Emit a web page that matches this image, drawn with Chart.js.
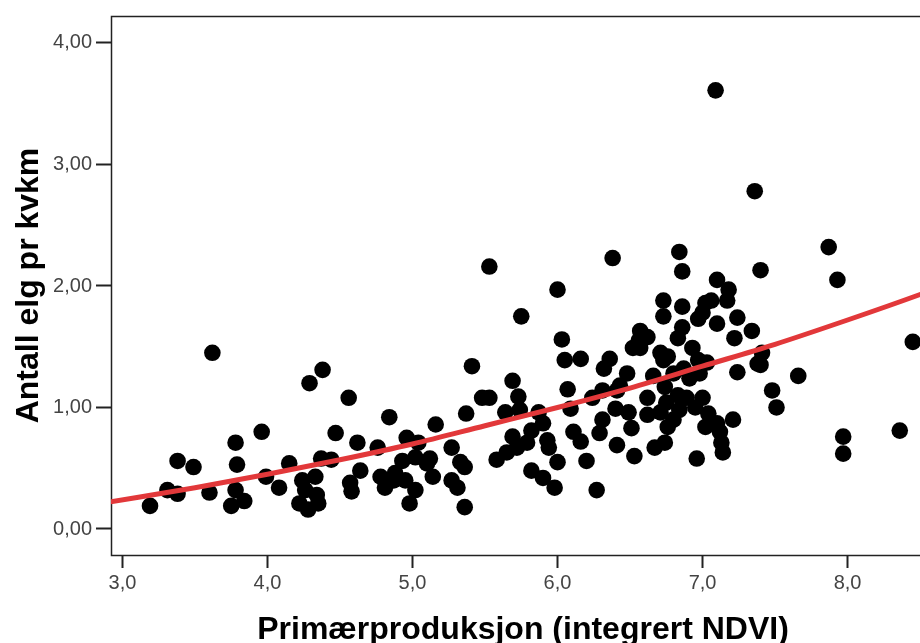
<!DOCTYPE html>
<html><head><meta charset="utf-8">
<script src="https://cdn.jsdelivr.net/npm/chart.js@4.4.1/dist/chart.umd.min.js"></script>
<style>html,body{margin:0;padding:0;overflow:hidden;background:#fff;width:920px;height:643px}canvas{display:block}</style>
</head><body><canvas id="c" width="935" height="643" style="width:935px;height:643px"></canvas>
<script>
// Primærproduksjon (integrert NDVI)
const ndvi = [3.19,3.31,3.38,3.38,3.49,3.60,3.62,3.75,3.84,3.78,3.78,3.79,3.96,3.99,4.08,4.15,4.22,4.24,4.26,4.28,4.33,4.34,4.35,4.29,4.38,4.56,4.47,4.62,4.37,4.44,4.57,4.58,4.64,4.76,4.84,4.78,4.81,4.87,4.88,4.93,4.95,4.98,5.02,4.96,5.04,5.02,5.10,5.12,5.14,5.16,5.27,5.33,5.36,5.27,5.31,5.36,5.37,5.41,5.48,5.53,5.53,5.58,5.65,5.72,5.79,5.69,5.82,5.93,5.94,5.82,5.90,5.98,5.64,5.74,5.87,5.90,5.69,5.73,5.75,6.00,6.03,6.05,6.16,6.07,6.09,6.24,6.31,6.41,6.36,6.32,6.38,6.48,6.52,6.40,6.49,6.51,6.31,6.11,6.16,6.29,6.41,6.53,6.20,6.00,6.27,6.43,6.66,6.74,6.80,6.91,6.98,7.03,7.24,7.38,6.62,6.62,6.67,6.74,6.76,6.80,6.84,6.83,6.89,6.95,7.00,7.04,7.02,7.10,7.12,7.13,7.14,7.21,6.96,6.84,6.86,7.40,7.10,7.18,7.17,6.73,6.73,6.86,7.02,7.06,7.00,6.97,7.10,7.24,7.34,7.22,6.57,6.56,6.62,6.57,6.86,6.83,6.71,6.76,6.93,6.97,6.73,6.87,7.41,7.40,7.66,7.48,7.51,7.87,7.93,8.45,7.97,7.97,8.36,7.09,7.36,6.75,6.71];
// Antall elg pr kvkm
const elg = [0.19,0.32,0.29,0.56,0.51,0.30,1.45,0.19,0.23,0.32,0.71,0.53,0.80,0.43,0.34,0.54,0.21,0.40,0.32,0.16,0.43,0.28,0.21,1.20,1.31,1.08,0.79,0.71,0.58,0.57,0.38,0.31,0.48,0.67,0.92,0.43,0.34,0.40,0.46,0.56,0.40,0.21,0.32,0.75,0.71,0.59,0.54,0.58,0.43,0.86,0.67,0.55,0.51,0.40,0.34,0.18,0.95,1.34,1.08,1.08,2.16,0.57,0.63,0.67,0.71,0.76,0.81,0.73,0.67,0.48,0.42,0.34,0.96,0.98,0.96,0.87,1.22,1.09,1.75,1.97,1.56,1.39,1.40,1.15,0.99,1.08,1.14,1.14,1.40,1.32,2.23,1.28,1.49,0.99,0.96,0.83,0.90,0.80,0.72,0.79,0.69,0.60,0.56,0.55,0.32,1.18,1.26,1.17,1.28,1.24,1.28,1.37,1.29,1.36,1.08,0.94,0.67,0.71,0.84,0.90,0.98,1.10,1.08,1.00,1.08,0.95,0.84,0.87,0.80,0.71,0.63,0.90,0.58,2.28,2.12,2.13,2.05,1.97,1.88,1.88,1.75,1.83,1.86,1.88,1.78,1.73,1.69,1.74,1.63,1.57,1.63,1.55,1.58,1.49,1.66,1.57,1.45,1.42,1.49,1.39,1.39,1.32,1.45,1.35,1.26,1.14,1.00,2.32,2.05,1.54,0.76,0.62,0.81,3.61,2.78,1.04,0.96];
// fitted curve
const fitX = [2.9,3.5,4.0,4.5,5.0,5.5,6.0,6.5,7.0,7.5,8.0,8.5,8.7];
const fitY = [0.22,0.34,0.45,0.57,0.70,0.85,1.00,1.16,1.34,1.52,1.72,1.93,2.02];
const xTicks = [3,4,5,6,7,8];
const xTickLabels = ['3,0','4,0','5,0','6,0','7,0','8,0'];
const yTicks = [0,1,2,3,4];
const yTickLabels = ['0,00','1,00','2,00','3,00','4,00'];

const framePlugin = {
  id: 'frame',
  beforeDatasetsDraw(chart) {
    const a = chart.chartArea, ctx = chart.ctx;
    ctx.save();
    ctx.strokeStyle = '#222';
    ctx.lineWidth = 1.5;
    ctx.strokeRect(a.left + 0.5, a.top + 0.5, a.right - a.left, a.bottom - a.top);
    ctx.restore();
  }
};

new Chart(document.getElementById('c'), {
  type: 'scatter',
  data: {
    datasets: [
      {
        type: 'line',
        data: fitX.map((x, i) => ({x, y: fitY[i]})),
        borderColor: '#e2383a',
        borderWidth: 5,
        pointRadius: 0,
        fill: false,
        cubicInterpolationMode: 'monotone',
        order: 0
      },
      {
        data: ndvi.map((x, i) => ({x, y: elg[i]})),
        backgroundColor: '#000',
        borderWidth: 0,
        pointRadius: 8.3,
        order: 1
      }
    ]
  },
  options: {
    responsive: false,
    animation: false,
    layout: {autoPadding: false, padding: {top: 15, left: 0, right: 0, bottom: 0}},
    plugins: {legend: {display: false}, tooltip: {enabled: false}},
    scales: {
      x: {
        type: 'linear',
        min: 2.921, max: 8.603,
        afterBuildTicks: s => { s.ticks = xTicks.map(v => ({value: v})); },
        afterFit: s => { s.height = 88; },
        border: {display: false},
        grid: {drawOnChartArea: false, drawTicks: true, tickLength: 13, tickColor: '#222', tickWidth: 2},
        ticks: {
          padding: 3, color: '#444', maxRotation: 0,
          font: {family: '"Liberation Sans", Arial, sans-serif', size: 20},
          callback: v => xTickLabels[xTicks.indexOf(v)]
        },
        title: {
          display: true, text: 'Primærproduksjon (integrert NDVI)', color: '#000',
          font: {family: '"Liberation Sans", Arial, sans-serif', size: 32, weight: 'bold', lineHeight: 1},
          padding: {top: 0, bottom: -3}
        }
      },
      y: {
        type: 'linear',
        min: -0.214, max: 4.222,
        afterBuildTicks: s => { s.ticks = yTicks.map(v => ({value: v})); },
        afterFit: s => { s.width = 111; },
        border: {display: false},
        grid: {drawOnChartArea: false, drawTicks: true, tickLength: 15, tickColor: '#222', tickWidth: 2},
        ticks: {
          padding: 4, color: '#444',
          font: {family: '"Liberation Sans", Arial, sans-serif', size: 20},
          callback: v => yTickLabels[yTicks.indexOf(v)]
        },
        title: {
          display: true, text: 'Antall elg pr kvkm', color: '#000',
          font: {family: '"Liberation Sans", Arial, sans-serif', size: 32, weight: 'bold', lineHeight: 1},
          padding: {top: 13, bottom: 0}
        }
      }
    }
  },
  plugins: [framePlugin]
});
</script>
</body></html>
